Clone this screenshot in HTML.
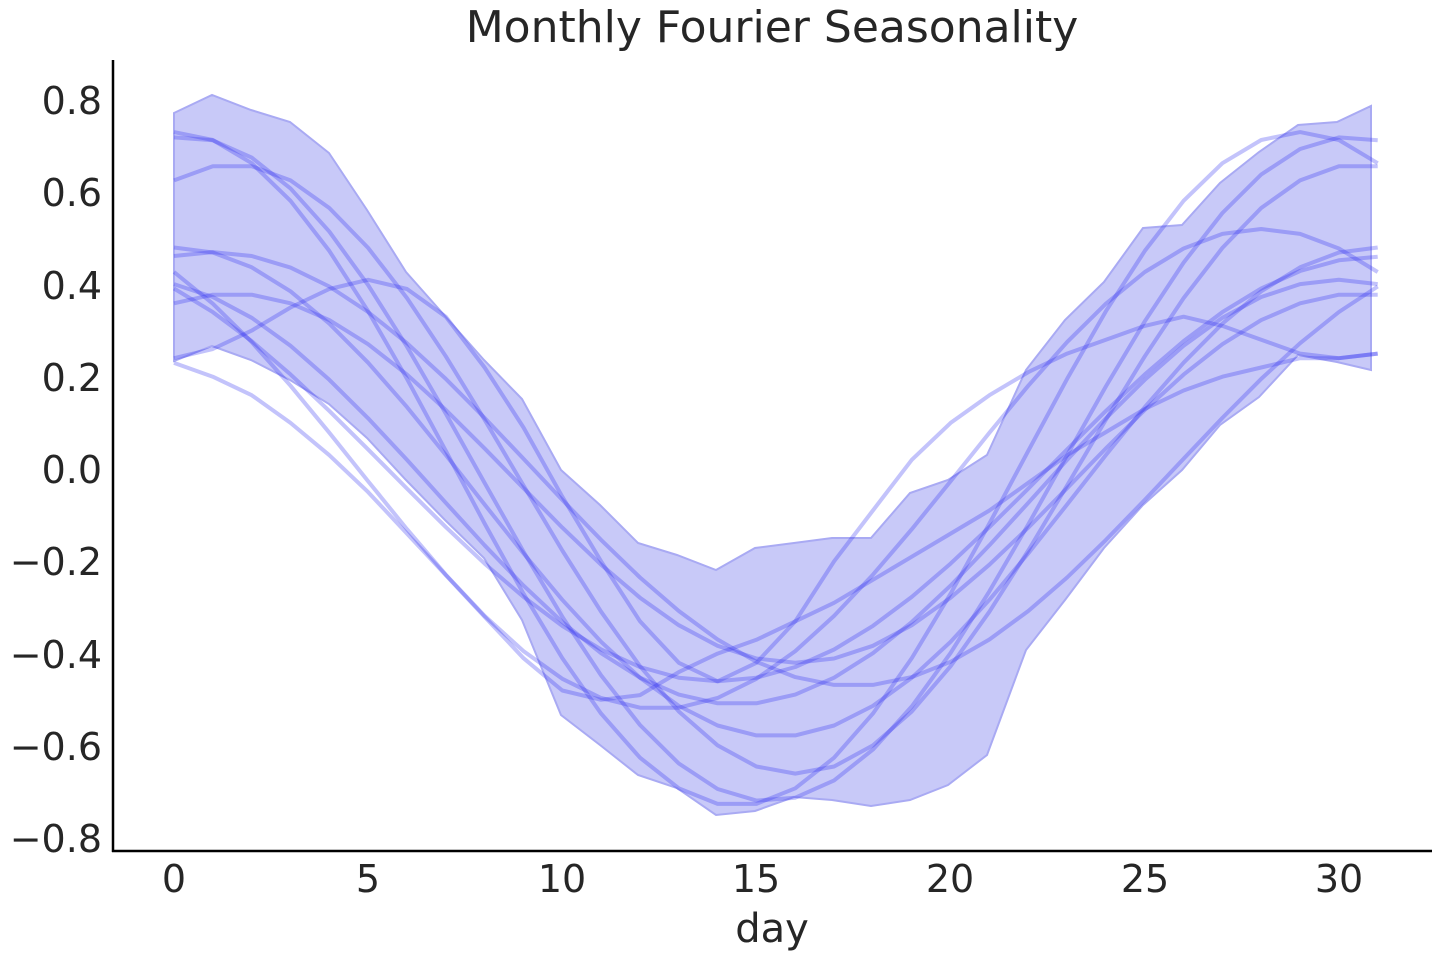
<!DOCTYPE html>
<html><head><meta charset="utf-8"><style>
html,body{margin:0;padding:0;background:#fff;}
svg text{font-family:"DejaVu Sans","Liberation Sans",sans-serif;fill:#262626;}
</style></head><body>
<svg id="s" width="1440" height="960" xmlns="http://www.w3.org/2000/svg">
<text x="772" y="42" font-size="44" text-anchor="middle">Monthly Fourier Seasonality</text>
<g id="plot"></g>
<line x1="113" y1="60" x2="113" y2="852" stroke="#000" stroke-width="2.5"/>
<line x1="112" y1="851" x2="1432" y2="851" stroke="#000" stroke-width="2.5"/>
<g font-size="38" text-anchor="end">
<text x="102" y="114">0.8</text><text x="102" y="206">0.6</text><text x="102" y="299">0.4</text>
<text x="102" y="391">0.2</text><text x="102" y="483">0.0</text><text x="102" y="575">−0.2</text>
<text x="102" y="668">−0.4</text><text x="102" y="760">−0.6</text><text x="102" y="852">−0.8</text>
</g>
<g font-size="38" text-anchor="middle">
<text x="174" y="892">0</text><text x="368" y="892">5</text><text x="562" y="892">10</text>
<text x="756" y="892">15</text><text x="950" y="892">20</text><text x="1145" y="892">25</text>
<text x="1339" y="892">30</text>
</g>
<text x="772" y="942" font-size="40" text-anchor="middle">day</text>
</svg>
<script>
var X=function(t){return 174+t*38.83;},Y=function(v){return 469-v*461.5;};
var up=[[174,113],[212,95],[251,110],[290,122],[329,153],[367,210],[406,272],[445,316],[484,360],[522,399],[561,470],[600,505],[638,543],[677,555],[716,570],[755,548],[794,543],[832,538],[871,538],[910,493],[948,480],[987,455],[1026,370],[1065,320],[1104,282],[1143,228],[1182,225],[1220,183],[1259,152],[1298,125],[1337,122],[1371,106]];
var lo=[[174,361],[212,346],[251,360],[290,380],[329,404],[367,438],[406,480],[445,520],[484,558],[522,620],[561,715],[600,745],[638,775],[677,788],[716,815],[755,811],[794,797],[832,800],[871,806],[910,800],[948,785],[987,755],[1026,650],[1065,600],[1104,548],[1143,505],[1182,470],[1220,425],[1259,397],[1298,355],[1337,362],[1371,370]];
var pts=up.concat(lo.slice().reverse()).map(function(p){return p.join(',')}).join(' ');
var h='<polygon points="'+pts+'" fill="#c8c9f8" stroke="#a9aaf3" stroke-width="2"/>';
var P=Math.PI*2;
var a9=[0.24,0.26,0.3,0.35,0.39,0.41,0.39,0.33,0.22,0.09,-0.06,-0.2,-0.33,-0.42,-0.46,-0.42,-0.33,-0.2,-0.09,0.02,0.1,0.16,0.21,0.25,0.28,0.31,0.33,0.31,0.28,0.25,0.24,0.25];
var a10=[0.23,0.2,0.16,0.1,0.03,-0.05,-0.14,-0.23,-0.32,-0.41,-0.48,-0.5,-0.49,-0.44,-0.4,-0.37,-0.33,-0.29,-0.24,-0.19,-0.14,-0.09,-0.03,0.03,0.08,0.13,0.17,0.2,0.22,0.24,0.24,0.25];
var fs=[
 function(t){return 0.73*Math.cos(P*t/29);},
 function(t){return 0.72*Math.cos(P*(t-0.3)/30);},
 function(t){return 0.66*Math.cos(P*(t-1.5)/29);},
 function(t){return -0.05+0.53*Math.cos(P*t/31);},
 function(t){return 0.52*Math.cos(P*(t+3)/31);},
 function(t){return -0.05+0.46*Math.cos(P*(t+1)/31);},
 function(t){return -0.02+0.40*Math.cos(P*(t-1.5)/29);},
 function(t){return 0.46*Math.cos(P*(t-31)/34);},
 function(t){return a9[t];},
 function(t){return a10[t];},
 function(t){return 0.47*Math.cos(P*(t-1)/33);}
];
fs.forEach(function(f){var a=[];for(var t=0;t<=31;t++)a.push(X(t).toFixed(1)+','+Y(f(t)).toFixed(1));
 h+='<polyline points="'+a.join(' ')+'" fill="none" stroke="rgba(40,40,240,0.28)" stroke-width="4" stroke-linejoin="round"/>';});
document.getElementById('plot').innerHTML=h;
</script>
</body></html>
